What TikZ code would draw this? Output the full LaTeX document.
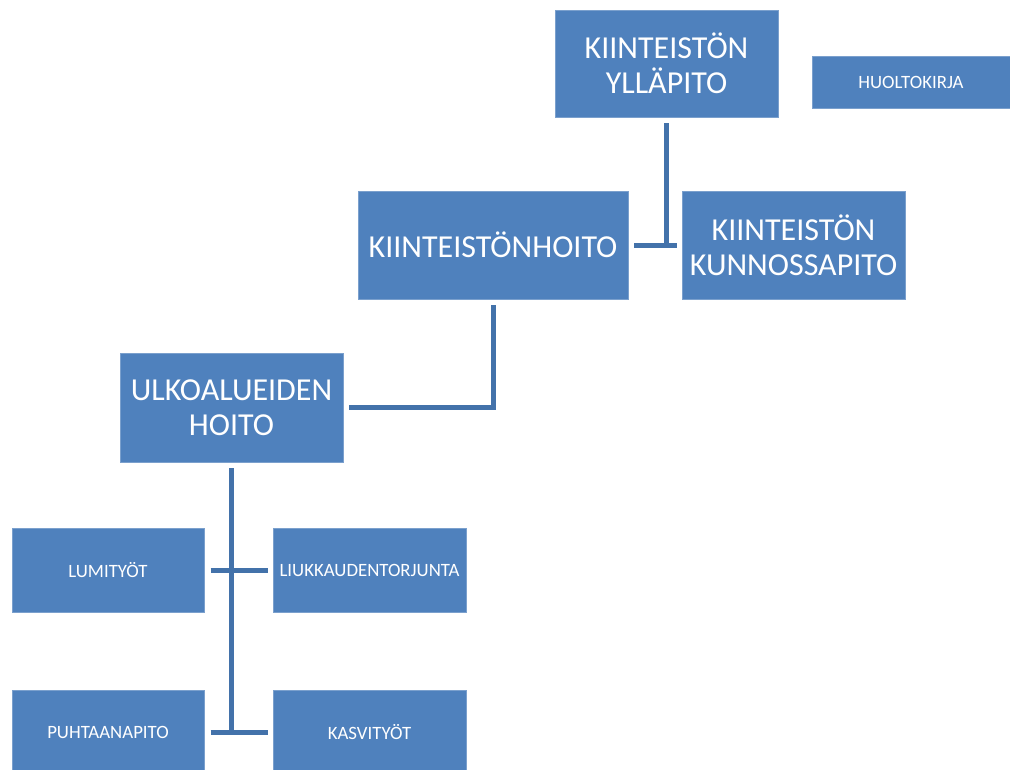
\documentclass[tikz,border=0pt]{standalone}
\usepackage{fontspec}
\setmainfont{Carlito}
\usetikzlibrary{calc}
\definecolor{boxblue}{HTML}{4F81BD}
\definecolor{lineblue}{HTML}{4372AA}
\tikzset{
  x=1pt,y=-1pt,
  box/.style={fill=boxblue,draw=boxblue!75!white,line width=0.5pt,text=white,align=center,
    inner sep=0pt,outer sep=0pt},
  bigbox/.style={box,font=\fontsize{32}{36}\selectfont},
  smallbox/.style={box,font=\fontsize{18.8}{22}\selectfont},
  conn/.style={draw=lineblue,line width=5pt},
}
\begin{document}
\begin{tikzpicture}
\useasboundingbox (0,0) rectangle (1010,769);
\node[bigbox,minimum width=223pt,minimum height=107pt] (yp) at (666.5,63.5) {KIINTEISTÖN\\[-1pt]YLLÄPITO};
\node[smallbox,minimum width=198pt,minimum height=52pt] (hk) at (911,82) {HUOLTOKIRJA};
\node[bigbox,minimum width=270pt,minimum height=108pt] (kh) at (493,245) {KIINTEISTÖNHOITO};
\node[bigbox,minimum width=223pt,minimum height=108pt] (kp) at (793.5,245) {KIINTEISTÖN\\[-1pt]KUNNOSSAPITO};
\node[bigbox,minimum width=223pt,minimum height=109pt] (uh) at (231.5,407.5) {ULKOALUEIDEN\\[-1pt]HOITO};
\node[smallbox,minimum width=192pt,minimum height=84pt] (lt) at (108,570) {LUMITYÖT};
\node[smallbox,minimum width=193pt,minimum height=84pt] (lk) at (369.5,570) {LIUKKAUDENTORJUNTA};
\node[smallbox,minimum width=192pt,minimum height=84pt] (pp) at (108,732) {PUHTAANAPITO};
\node[smallbox,minimum width=193pt,minimum height=84pt] (kv) at (369.5,732) {KASVITYÖT};
% connectors
\coordinate (a1) at ($(yp.south)+(0,6)$);
\coordinate (a2) at (a1 |- kh.east);
\draw[conn] (a1) -- (a2);
\draw[conn] ($(kh.east)+(6,0)$) -- ($(kp.west)+(-5,0)$);
\coordinate (b1) at ($(kh.south)+(0,6)$);
\coordinate (b2) at (b1 |- uh.east);
\draw[conn] (b1) -- (b2) -- ($(uh.east)+(6,0)$);
\coordinate (c1) at ($(uh.south)+(0,6)$);
\coordinate (c2) at (c1 |- pp.east);
\draw[conn] (c1) -- (c2);
\draw[conn] ($(lt.east)+(6.5,0)$) -- ($(lk.west)+(-5,0)$);
\draw[conn] ($(pp.east)+(6.5,0)$) -- ($(kv.west)+(-5,0)$);
\end{tikzpicture}
\end{document}
